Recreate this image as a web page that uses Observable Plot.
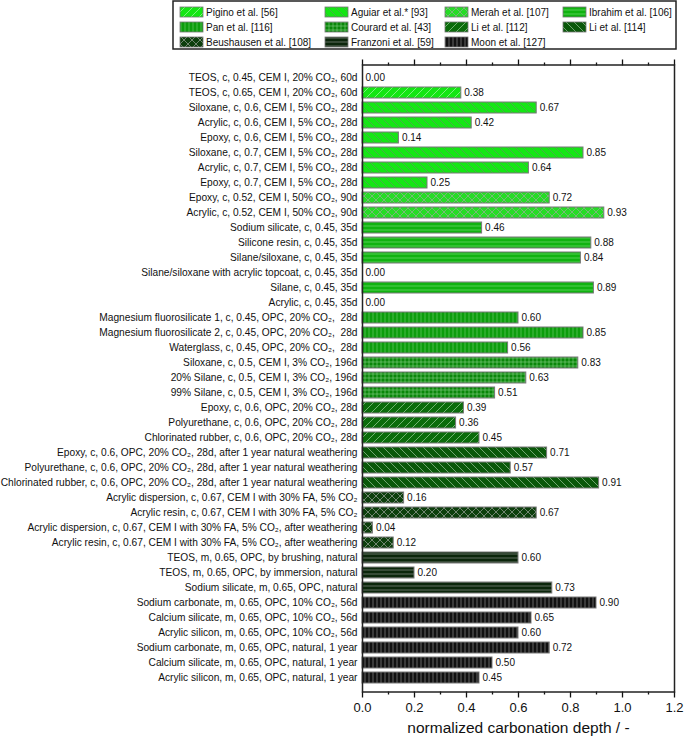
<!DOCTYPE html>
<html><head><meta charset="utf-8">
<script src="https://cdn.jsdelivr.net/npm/d3@7"></script>
<script src="https://cdn.jsdelivr.net/npm/@observablehq/plot@0.6"></script>
<style>
body{margin:0;background:#fff;font-family:"Liberation Sans",Arial,sans-serif;}
#legend{height:56px;width:685px;position:relative}
#defs{position:absolute;width:0;height:0;overflow:hidden}
</style></head><body>
<svg id="defs" width="0" height="0"></svg>
<div id="legend"></div>
<div id="chart"></div>
<script>
const labels = [
"TEOS, c, 0.45, CEM I, 20% CO₂, 60d",
"TEOS, c, 0.65, CEM I, 20% CO₂, 60d",
"Siloxane, c, 0.6, CEM I, 5% CO₂, 28d",
"Acrylic, c, 0.6, CEM I, 5% CO₂, 28d",
"Epoxy, c, 0.6, CEM I, 5% CO₂, 28d",
"Siloxane, c, 0.7, CEM I, 5% CO₂, 28d",
"Acrylic, c, 0.7, CEM I, 5% CO₂, 28d",
"Epoxy, c, 0.7, CEM I, 5% CO₂, 28d",
"Epoxy, c, 0.52, CEM I, 50% CO₂, 90d",
"Acrylic, c, 0.52, CEM I, 50% CO₂, 90d",
"Sodium silicate, c, 0.45, 35d",
"Silicone resin, c, 0.45, 35d",
"Silane/siloxane, c, 0.45, 35d",
"Silane/siloxane with acrylic topcoat, c, 0.45, 35d",
"Silane, c, 0.45, 35d",
"Acrylic, c, 0.45, 35d",
"Magnesium fluorosilicate 1, c, 0.45, OPC, 20% CO₂,  28d",
"Magnesium fluorosilicate 2, c, 0.45, OPC, 20% CO₂,  28d",
"Waterglass, c, 0.45, OPC, 20% CO₂,  28d",
"Siloxane, c, 0.5, CEM I, 3% CO₂, 196d",
"20% Silane, c, 0.5, CEM I, 3% CO₂, 196d",
"99% Silane, c, 0.5, CEM I, 3% CO₂, 196d",
"Epoxy, c, 0.6, OPC, 20% CO₂, 28d",
"Polyurethane, c, 0.6, OPC, 20% CO₂, 28d",
"Chlorinated rubber, c, 0.6, OPC, 20% CO₂, 28d",
"Epoxy, c, 0.6, OPC, 20% CO₂, 28d, after 1 year natural weathering",
"Polyurethane, c, 0.6, OPC, 20% CO₂, 28d, after 1 year natural weathering",
"Chlorinated rubber, c, 0.6, OPC, 20% CO₂, 28d, after 1 year natural weathering",
"Acrylic dispersion, c, 0.67, CEM I with 30% FA, 5% CO₂",
"Acrylic resin, c, 0.67, CEM I with 30% FA, 5% CO₂",
"Acrylic dispersion, c, 0.67, CEM I with 30% FA, 5% CO₂, after weathering",
"Acrylic resin, c, 0.67, CEM I with 30% FA, 5% CO₂, after weathering",
"TEOS, m, 0.65, OPC, by brushing, natural",
"TEOS, m, 0.65, OPC, by immersion, natural",
"Sodium silicate, m, 0.65, OPC, natural",
"Sodium carbonate, m, 0.65, OPC, 10% CO₂, 56d",
"Calcium silicate, m, 0.65, OPC, 10% CO₂, 56d",
"Acrylic silicon, m, 0.65, OPC, 10% CO₂, 56d",
"Sodium carbonate, m, 0.65, OPC, natural, 1 year",
"Calcium silicate, m, 0.65, OPC, natural, 1 year",
"Acrylic silicon, m, 0.65, OPC, natural, 1 year"
];
const values = [0.00,0.38,0.67,0.42,0.14,0.85,0.64,0.25,0.72,0.93,
  0.46,0.88,0.84,0.00,0.89,0.00,0.60,0.85,0.56,0.83,0.63,0.51,
  0.39,0.36,0.45,0.71,0.57,0.91,0.16,0.67,0.04,0.12,
  0.60,0.20,0.73,0.90,0.65,0.60,0.72,0.50,0.45];
const groupOfRow = [0,0,1,1,1,1,1,1,2,2,3,3,3,3,3,3,4,4,4,5,5,5,6,6,6,7,7,7,8,8,8,8,9,9,9,10,10,10,10,10,10];
const groupNames = ["Pigino et al. [56]","Aguiar et al.* [93]","Merah et al. [107]","Ibrahim et al. [106]",
  "Pan et al. [116]","Courard et al. [43]","Li et al. [112]","Li et al. [114]",
  "Beushausen et al. [108]","Franzoni et al. [59]","Moon et al. [127]"];
const groupColors = ["#14e614","#14e614","#26dc26","#10b310","#0d9d0d","#0a870a","#0b6c0b","#0a580a","#0d3f0d","#0b260b","#111111"];
const groupHatch = ["fwd","back","cross","horiz","vert","grid","fwd","back","cross","horiz","vert"];
const hatchColors = ["rgba(255,255,255,0.55)","rgba(90,150,90,0.9)","rgba(150,170,150,0.9)","rgba(120,220,120,0.8)","rgba(120,210,120,0.7)","rgba(140,210,140,0.7)","rgba(170,220,170,0.8)","rgba(170,210,170,0.8)","rgba(150,160,150,0.9)","rgba(130,140,130,0.9)","rgba(130,130,130,0.9)"];
const xMajorTicks = [0,0.2,0.4,0.6,0.8,1.0,1.2];
const xMinorTicks = [0.1,0.3,0.5,0.7,0.9,1.1];
const xLabel = "normalized carbonation depth / -";

// pattern defs
const defs = d3.select("#defs").append("defs");
groupHatch.forEach((h, g) => {
  let w = 8, ht = 8, d = "";
  if (h === "fwd") d = "M-2,2 L2,-2 M0,8 L8,0 M6,10 L10,6";
  else if (h === "back") d = "M-2,6 L2,10 M0,0 L8,8 M6,-2 L10,2";
  else if (h === "cross") d = "M-2,2 L2,-2 M0,8 L8,0 M6,10 L10,6 M-2,6 L2,10 M0,0 L8,8 M6,-2 L10,2";
  else if (h === "horiz") { w = 8; ht = 4; d = "M0,2 L8,2"; }
  else if (h === "vert") { w = 4; ht = 8; d = "M1,0 L1,8"; }
  else if (h === "grid") { w = 4; ht = 4; d = "M1,0 L1,4 M0,2 L4,2"; }
  const p = defs.append("pattern").attr("id", "pat" + g).attr("patternUnits", "userSpaceOnUse")
    .attr("width", w).attr("height", ht);
  p.append("rect").attr("width", w).attr("height", ht).attr("fill", groupColors[g]);
  p.append("path").attr("d", d).attr("stroke", hatchColors[g]).attr("stroke-width", 0.8).attr("fill", "none");
});

// legend
const lg = d3.select("#legend").append("svg").attr("width", 685).attr("height", 56);
const colX = [180, 325, 445, 563];
const rowY = [12, 27, 42];
lg.append("rect").attr("x", 173).attr("y", 1).attr("width", 503).attr("height", 48)
  .attr("fill", "none").attr("stroke", "#222").attr("stroke-width", 1.5);
groupNames.forEach((n, g) => {
  const c = g % 4, r = Math.floor(g / 4);
  lg.append("rect").attr("x", colX[c]).attr("y", rowY[r] - 5).attr("width", 23).attr("height", 10)
    .attr("fill", `url(#pat${g})`).attr("stroke", "#777").attr("stroke-width", 0.8);
  lg.append("text").attr("x", colX[c] + 26).attr("y", rowY[r]).attr("dy", "0.35em")
    .attr("font-size", 10).attr("fill", "#111").text(n);
});

const rows = labels.map((l, i) => ({label: l, value: values[i], g: groupOfRow[i]}));
const barMarks = groupNames.map((n, g) =>
  Plot.barX(rows.filter(r => r.g === g && r.value > 0), {x: "value", y: "label", fill: `url(#pat${g})`, stroke: "#787878", strokeWidth: 1}));

const chart = Plot.plot({
  width: 685, height: 682,
  marginLeft: 362, marginRight: 11, marginTop: 8.5, marginBottom: 46.5,
  style: {fontFamily: "'Liberation Sans', Arial, sans-serif", fontSize: "10.2px", color: "#111", background: "#fff"},
  x: {domain: [0, 1.2]},
  y: {domain: labels, paddingInner: 0.24, paddingOuter: 0.36, align: 0.45},
  marks: [
    ...barMarks,
    Plot.text(rows, {x: "value", y: "label", text: d => d.value.toFixed(2), textAnchor: "start", dx: 3, fontSize: 10, fill: "#111"}),
    Plot.axisY({tickSize: 0, tickPadding: 5, fontSize: 10.2, label: null}),
    Plot.axisX({anchor: "bottom", ticks: xMajorTicks, tickSize: 6, tickPadding: 5, fontSize: 13, tickFormat: d => d.toFixed(1), label: null, strokeWidth: 1.3}),
    Plot.axisX({anchor: "bottom", ticks: xMinorTicks, tickSize: 3, tickFormat: () => "", label: null, strokeWidth: 1.3}),
    Plot.axisX({anchor: "top", ticks: xMajorTicks, tickSize: 6, tickFormat: () => "", label: null, strokeWidth: 1.3}),
    Plot.axisX({anchor: "top", ticks: xMinorTicks, tickSize: 3, tickFormat: () => "", label: null, strokeWidth: 1.3}),
    Plot.text([xLabel], {frameAnchor: "bottom", dy: 41, fontSize: 15.5, fill: "#111"}),
    Plot.frame({stroke: "#222", strokeWidth: 1.5})
  ]
});
document.getElementById("chart").appendChild(chart);
</script>
</body></html>
